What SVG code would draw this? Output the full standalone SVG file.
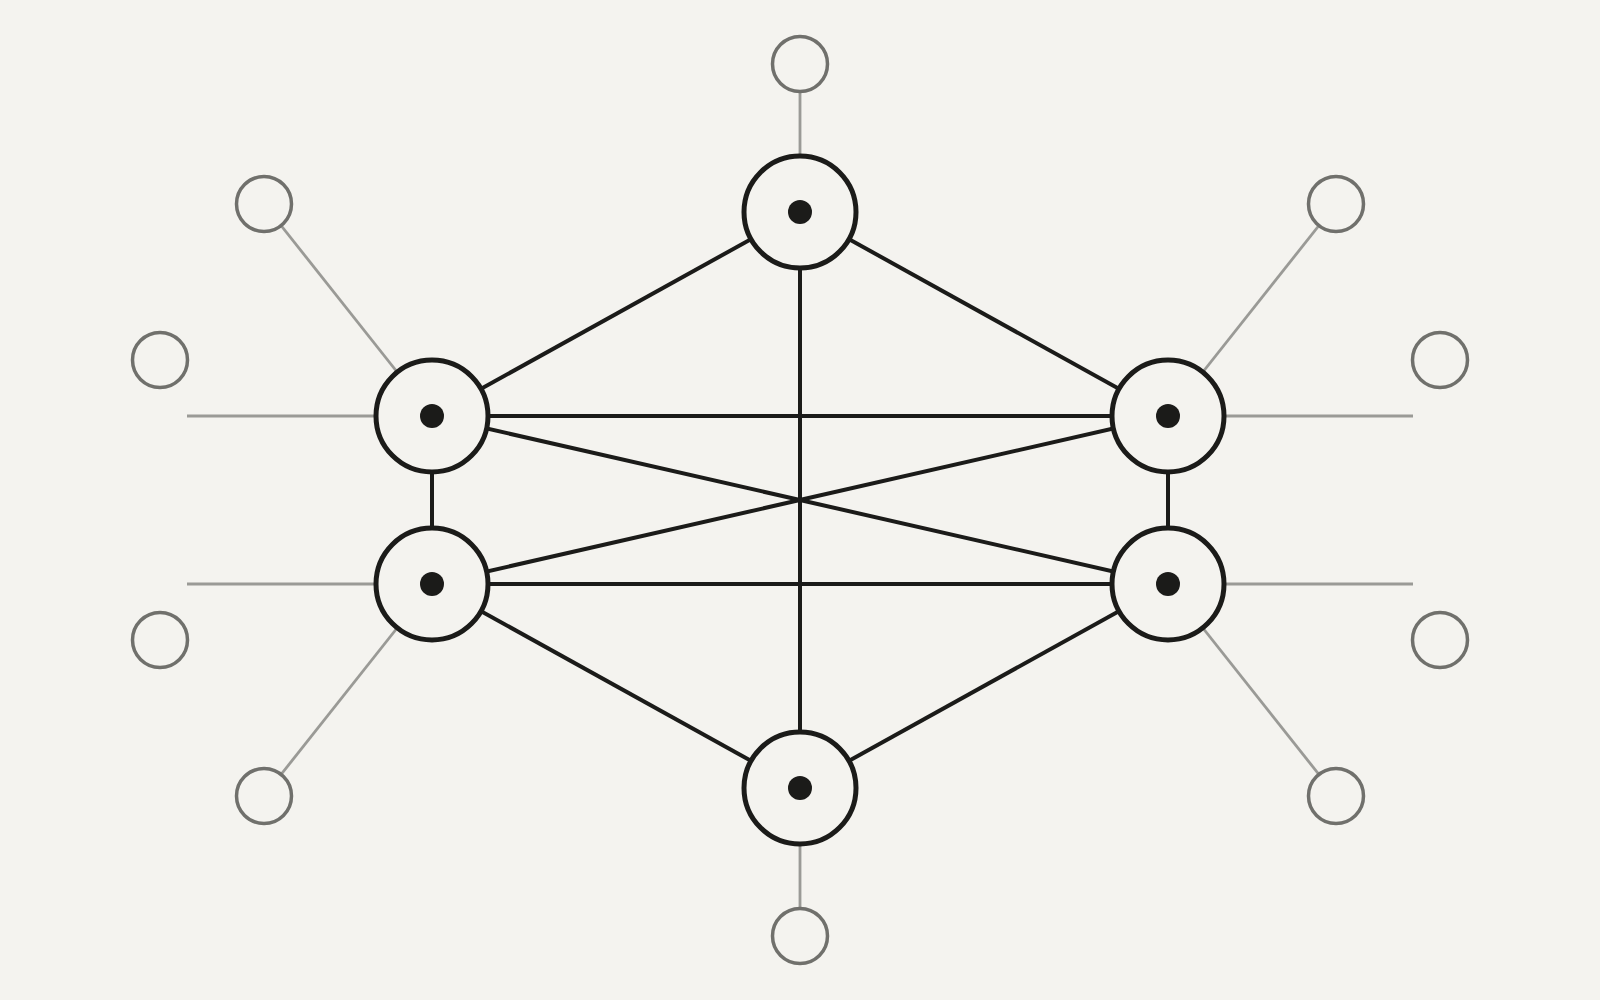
<svg xmlns="http://www.w3.org/2000/svg" width="1600" height="1000" viewBox="0 0 1600 1000">
  <style>
    .bg { fill: #f4f3ef; }
    .edge { stroke: #1b1b19; stroke-width: 4; fill: none; }
    .spoke { stroke: #9a9a96; stroke-width: 2.8; fill: none; }
    .hub { fill: #f4f3ef; stroke: #1b1b19; stroke-width: 5; }
    .dot { fill: #1b1b19; }
    .leaf { fill: #f4f3ef; stroke: #70706c; stroke-width: 3.5; }
  </style>
  <rect class="bg" x="0" y="0" width="1600" height="1000"/>
  <g id="connectors">
    <line class="spoke" x1="800" y1="64" x2="800" y2="212"/>
    <line class="spoke" x1="800" y1="936" x2="800" y2="788"/>
    <line class="spoke" x1="264" y1="204" x2="432" y2="416"/>
    <line class="spoke" x1="1336" y1="204" x2="1168" y2="416"/>
    <line class="spoke" x1="264" y1="796" x2="432" y2="584"/>
    <line class="spoke" x1="1336" y1="796" x2="1168" y2="584"/>
    <line class="spoke" x1="187" y1="416" x2="432" y2="416"/>
    <line class="spoke" x1="187" y1="584" x2="432" y2="584"/>
    <line class="spoke" x1="1413" y1="416" x2="1168" y2="416"/>
    <line class="spoke" x1="1413" y1="584" x2="1168" y2="584"/>
    <line class="edge" x1="800" y1="212" x2="432" y2="416"/>
    <line class="edge" x1="800" y1="212" x2="1168" y2="416"/>
    <line class="edge" x1="800" y1="212" x2="800" y2="788"/>
    <line class="edge" x1="432" y1="416" x2="1168" y2="416"/>
    <line class="edge" x1="432" y1="584" x2="1168" y2="584"/>
    <line class="edge" x1="432" y1="416" x2="1168" y2="584"/>
    <line class="edge" x1="1168" y1="416" x2="432" y2="584"/>
    <line class="edge" x1="432" y1="416" x2="432" y2="584"/>
    <line class="edge" x1="1168" y1="416" x2="1168" y2="584"/>
    <line class="edge" x1="432" y1="584" x2="800" y2="788"/>
    <line class="edge" x1="1168" y1="584" x2="800" y2="788"/>
  </g>
  <g id="hub-top"><circle class="hub" cx="800" cy="212" r="56"/><circle class="dot" cx="800" cy="212" r="12"/></g>
  <g id="hub-left-top"><circle class="hub" cx="432" cy="416" r="56"/><circle class="dot" cx="432" cy="416" r="12"/></g>
  <g id="hub-right-top"><circle class="hub" cx="1168" cy="416" r="56"/><circle class="dot" cx="1168" cy="416" r="12"/></g>
  <g id="hub-left-bottom"><circle class="hub" cx="432" cy="584" r="56"/><circle class="dot" cx="432" cy="584" r="12"/></g>
  <g id="hub-right-bottom"><circle class="hub" cx="1168" cy="584" r="56"/><circle class="dot" cx="1168" cy="584" r="12"/></g>
  <g id="hub-bottom"><circle class="hub" cx="800" cy="788" r="56"/><circle class="dot" cx="800" cy="788" r="12"/></g>
  <g id="leaf-top"><circle class="leaf" cx="800" cy="64" r="27.5"/></g>
  <g id="leaf-bottom"><circle class="leaf" cx="800" cy="936" r="27.5"/></g>
  <g id="leaf-upper-left"><circle class="leaf" cx="264" cy="204" r="27.5"/></g>
  <g id="leaf-upper-right"><circle class="leaf" cx="1336" cy="204" r="27.5"/></g>
  <g id="leaf-mid-left-top"><circle class="leaf" cx="160" cy="360" r="27.5"/></g>
  <g id="leaf-mid-right-top"><circle class="leaf" cx="1440" cy="360" r="27.5"/></g>
  <g id="leaf-mid-left-bottom"><circle class="leaf" cx="160" cy="640" r="27.5"/></g>
  <g id="leaf-mid-right-bottom"><circle class="leaf" cx="1440" cy="640" r="27.5"/></g>
  <g id="leaf-lower-left"><circle class="leaf" cx="264" cy="796" r="27.5"/></g>
  <g id="leaf-lower-right"><circle class="leaf" cx="1336" cy="796" r="27.5"/></g>
</svg>
